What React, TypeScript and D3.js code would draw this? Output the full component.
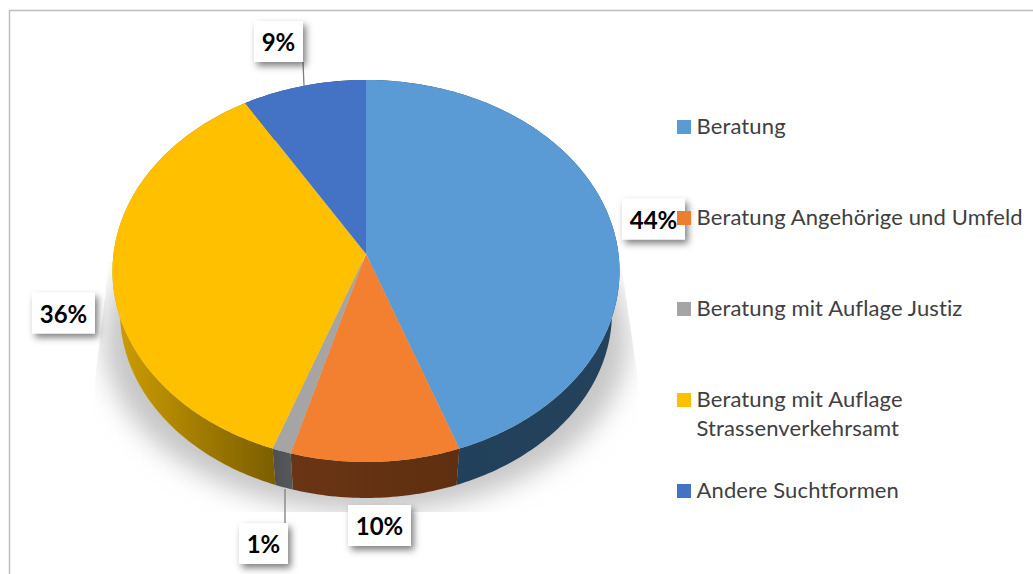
import React from 'react';
import * as d3 from 'd3';

const categories = ['Beratung', 'Beratung Angehörige und Umfeld', 'Beratung mit Auflage Justiz', 'Beratung mit Auflage Strassenverkehrsamt', 'Andere Suchtformen'];
const legendLines = [['Beratung'], ['Beratung Angehörige und Umfeld'], ['Beratung mit Auflage Justiz'], ['Beratung mit Auflage', 'Strassenverkehrsamt'], ['Andere Suchtformen']];
const values = [44.5, 9.9, 1.1, 35.9, 8.6];
const percentLabels = ['44%', '10%', '1%', '36%', '9%'];

const topColors = ['#5b9bd5', '#f28030', '#a5a5a5', '#ffc000', '#4472c4'];
const legendColors = ['#5b9bd5', '#ed7d31', '#a5a5a5', '#ffc000', '#4472c4'];
const wallStops = [
  ['#203f5a', '#24425c'],
  ['#6a3515', '#5e2f10'],
  ['#4d4f52', '#55575a'],
  ['#cf9f00', '#7c5f00'],
  ['#2a4478', '#2a4478'],
];

// label box layout: centre x, centre y, width
const labelBoxes = [
  [653.5, 219, 63],
  [379.5, 525.5, 63],
  [263.5, 543.5, 49],
  [63.5, 313, 63],
  [278.5, 41.5, 49],
];
const leaders = [
  { label: 4, from: [303, 62], to: [304, 86] },
  { label: 2, from: [285, 489], to: [285, 523] },
];

const W = 1033;
const H = 574;
const persp = 0.089;

function project(angle: number, cx: number, cy: number, a: number, b: number): [number, number] {
  const u = Math.sin(angle);
  const v = -Math.cos(angle);
  const w = 1 - persp * v;
  return [cx + (a * u) / w, cy + (b * v) / w];
}
const topAt = (t: number) => project(t, 366, 254, 252.5, 189.5);
const baseAt = (t: number) => project(t, 366, 296, 245, 184);

const path = d3.line();

function rim(start: number, end: number, at: (t: number) => [number, number]) {
  const n = Math.max(4, Math.ceil((end - start) * 60));
  return d3.range(n + 1).map(i => at(start + ((end - start) * i) / n));
}

export default function App() {
  const arcs = d3.pie<number>().sort(null)(values);
  const legendY = d3.scalePoint<string>().domain(categories).range([127, 491]);

  return (
    <svg width={W} height={H} viewBox={`0 0 ${W} ${H}`} style={{ position: 'absolute', left: 0, top: 0, fontFamily: 'Lato' }}>
      <defs>
        <filter id="labelShadow" x="-30%" y="-30%" width="170%" height="170%">
          <feDropShadow dx="3" dy="4" stdDeviation="3.5" floodColor="#000" floodOpacity="0.5" />
        </filter>
        <filter id="blur" x="-20%" y="-20%" width="140%" height="140%">
          <feGaussianBlur stdDeviation="13" />
        </filter>
        <clipPath id="shadowClip">
          <path d={path([[109, 262], [95, 380], [95, 512], [640, 512], [638, 380], [621, 262]]) + 'Z'} />
        </clipPath>
        {arcs.map((d, i) => {
          const xs = rim(d.startAngle, d.endAngle, topAt).map(p => p[0]);
          return (
            <linearGradient key={i} id={`wall${i}`} gradientUnits="userSpaceOnUse" x1={d3.min(xs)} x2={d3.max(xs)} y1="0" y2="0">
              <stop offset="0" stopColor={wallStops[i][0]} />
              <stop offset="1" stopColor={wallStops[i][1]} />
            </linearGradient>
          );
        })}
      </defs>

      <rect width={W} height={H} fill="#fff" />
      <path d="M9.5 574V10.5H1033" fill="none" stroke="#bfbfbf" strokeWidth="1.5" />

      <g clipPath="url(#shadowClip)">
        <ellipse cx="366" cy="340" rx="262" ry="172" fill="#c6c6c6" filter="url(#blur)" />
      </g>

      {arcs.map((d, i) => (
        <path
          key={i}
          fill={`url(#wall${i})`}
          d={path([...rim(d.startAngle, d.endAngle, topAt), ...rim(d.startAngle, d.endAngle, baseAt).reverse()]) + 'Z'}
        />
      ))}
      {arcs.map((d, i) => (
        <path
          key={i}
          fill={topColors[i]}
          d={path([[366, 254], ...rim(d.startAngle, d.endAngle, topAt)]) + 'Z'}
        />
      ))}

      {leaders.map(l => (
        <line key={l.label} x1={l.from[0]} y1={l.from[1]} x2={l.to[0]} y2={l.to[1]} stroke="#7f7f7f" strokeWidth="1.3" />
      ))}

      {percentLabels.map((t, i) => {
        const [cx, cy, w] = labelBoxes[i];
        return (
          <g key={t}>
            <rect x={cx - w / 2} y={cy - 20.5} width={w} height={41} fill="#fff" filter="url(#labelShadow)" />
            <text x={cx} y={cy + 9.5} textAnchor="middle" fontSize="24" fontWeight="700" fill="#000">{t}</text>
          </g>
        );
      })}

      {categories.map((c, i) => {
        const y = legendY(c)!;
        return (
          <g key={c}>
            <rect x={677} y={y - 7} width={14} height={14} fill={legendColors[i]} />
            <text x={696.5} y={y + 7} fontSize="22" letterSpacing="0.13" fill="#404040">
              {legendLines[i].map((line, j) => (
                <tspan key={j} x={696.5} dy={j === 0 ? 0 : 29}>{line}</tspan>
              ))}
            </text>
          </g>
        );
      })}
    </svg>
  );
}
